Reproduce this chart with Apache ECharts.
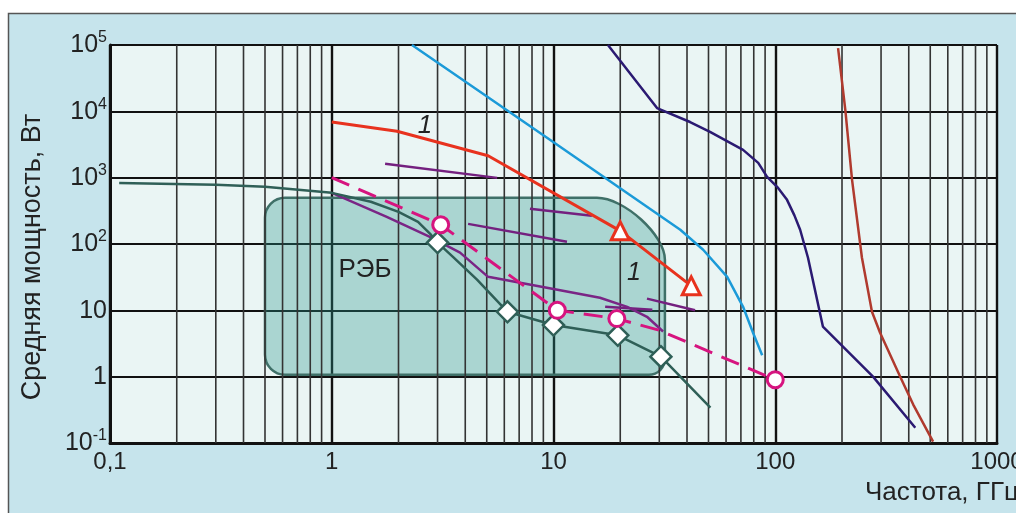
<!DOCTYPE html>
<html><head><meta charset="utf-8">
<script src="https://cdn.jsdelivr.net/npm/echarts@6/dist/echarts.min.js"></script>
<style>html,body{margin:0;padding:0;background:#fff}#c{width:1016px;height:513px}</style>
</head><body><div id="c"></div>
<script>
// ---- tick labels ----
const xTickValues = [0.1, 1, 10, 100, 1000];
const xTickLabels = ['0,1', '1', '10', '100', '1000'];
const yTickExponents = [-1, 0, 1, 2, 3, 4, 5];
const yTickBase = ['10', '1', '10', '10', '10', '10', '10'];
const yTickSup = ['-1', '', '', '2', '3', '4', '5'];
const xMinorGrid = [0.2,0.3,0.4,0.5,0.6,0.7,0.8,0.9, 2,3,4,5,6,7,8,9, 20,30,40,50,60,70,80,90, 200,300,400,500,600,700,800,900];

// ---- data (x: GHz, y: W) ----
const tealCurve = [[0.11,830],[0.3,780],[0.5,730],[1,590],[1.5,433],[2,305],[2.45,216],[2.8,138],[3.0,105],[3.52,64],[4.52,29],[6.2,9.5],[10,6],[19.5,4.2],[30.5,2.0],[51,0.34]];
const tealMarkers = [8, 11, 12, 13, 14];
const purpleCurve = [[1,590],[1.77,257],[2.77,128],[3.79,74],[5.07,32],[10,21],[16.2,15.5],[21.5,11.3],[26.4,8.0],[31.2,4.8]];
const purpleSegA = [[1.74,1615],[5.57,993]];
const purpleSegB = [[7.83,339],[14.9,266]];
const purpleSegC = [[4.12,201],[11.5,108]];
const purpleSegD = [[17.1,11.3],[27.9,10.2]];
const purpleSegE = [[26.4,15],[43.5,10]];
const magentaCurve = [[1,1000],[3.1,195],[10.4,10],[19.3,7.5],[30,5],[100,0.9]];
const magentaMarkers = [1, 2, 3, 5];
const redCurve = [[1,6900],[1.97,5000],[5.07,2140],[20,158],[41.8,23.4]];
const redMarkers = [3, 4];
const blueCurve = [[2.3,100000],[9.97,3460],[37.3,164],[47.3,82],[60.7,32],[71.6,11.3],[79.4,4.6],[87.3,2.1]];
const navyCurve = [[17.6,100000],[29.3,11200],[41.3,6900],[50.8,4900],[71.6,2620],[83.8,1670],[91.9,1030],[103,700],[113,463],[122,270],[129.5,164],[140.5,62],[164,5.7],[276,1.0],[428,0.17]];
const brownCurve = [[192,90000],[207,10500],[222,927],[246,62],[273,9.5],[297,4.6],[366,1.0],[419,0.38],[515,0.105]];
const rebRegion = [[0.5, 1.07, 31.8, 497]]; // xMin, yMin, xMax, yMax

const FONT = 'Liberation Sans, Arial, sans-serif';
const chart = echarts.init(document.getElementById('c'));

function lineSeries(data, color, width, extra) {
  return Object.assign({
    type: 'line', data: data, showSymbol: false, symbol: 'none',
    lineStyle: { color: color, width: width }, itemStyle: { color: color },
    animation: false, silent: true, z: 3
  }, extra || {});
}
function markedSeries(data, color, width, markers, sym, size, border, extra) {
  return Object.assign(lineSeries(data, color, width), {
    showSymbol: true, showAllSymbol: true,
    symbol: (v, p) => markers.indexOf(p.dataIndex) >= 0 ? sym : 'none',
    symbolSize: size,
    itemStyle: { color: '#ffffff', borderColor: color, borderWidth: border },
    z: 4
  }, extra || {});
}

const option = {
  backgroundColor: '#c6e4ec',
  animation: false,
  grid: { left: 110, right: 19, top: 45, bottom: 70, show: true, backgroundColor: '#eaf5f4', borderWidth: 0, containLabel: false, outerBoundsMode: 'none' },
  xAxis: {
    type: 'log', logBase: 10, min: 0.1, max: 1000,
    axisLine: { show: true, onZero: false, lineStyle: { color: '#111', width: 3 } },
    axisTick: { show: false },
    splitLine: { show: true, lineStyle: { color: '#111', width: 2.4 } },
    axisLabel: {
      margin: 7, color: '#222', fontFamily: FONT, fontSize: 24,
      formatter: v => xTickLabels[Math.round(Math.log10(v)) + 1]
    }
  },
  yAxis: {
    type: 'log', logBase: 10, min: 0.1, max: 100000,
    axisLine: { show: true, onZero: false, lineStyle: { color: '#111', width: 3 } },
    axisTick: { show: false },
    splitLine: { show: true, lineStyle: { color: '#111', width: 2 } },
    axisLabel: {
      margin: 3, color: '#222', fontFamily: FONT,
      formatter: v => {
        const i = yTickExponents.indexOf(Math.round(Math.log10(v)));
        return '{b|' + yTickBase[i] + '}' + (yTickSup[i] ? '{s|' + yTickSup[i] + '}' : '');
      },
      rich: {
        b: { fontSize: 25, fontFamily: FONT, color: '#222', lineHeight: 30, verticalAlign: 'bottom', padding: [0, 0, 2, 0] },
        s: { fontSize: 16, fontFamily: FONT, color: '#222', lineHeight: 16, verticalAlign: 'top' }
      }
    }
  },
  graphic: [
    { type: 'rect', shape: { x: 0, y: 0, width: 1016, height: 13 }, style: { fill: '#ffffff' }, z: 100, silent: true },
    { type: 'rect', shape: { x: 0, y: 0, width: 8, height: 513 }, style: { fill: '#ffffff' }, z: 100, silent: true },
    { type: 'polyline', shape: { points: [[8.5, 513], [8.5, 13.5], [1016, 13.5]] }, style: { stroke: '#555', lineWidth: 1.5, fill: null }, z: 101, silent: true },
    { type: 'text', x: 865, y: 493, style: { text: 'Частота, ГГц', font: '26px ' + FONT, fill: '#222', textAlign: 'left', textVerticalAlign: 'middle', align: 'left', verticalAlign: 'middle' }, z: 50 },
    { type: 'text', x: 33, y: 257, rotation: Math.PI / 2, style: { text: 'Средняя мощность, Вт', font: '27px ' + FONT, fill: '#222', textAlign: 'center', textVerticalAlign: 'middle', align: 'center', verticalAlign: 'middle' }, z: 50 },
    { type: 'text', x: 365, y: 270, style: { text: 'РЭБ', font: '26px ' + FONT, fill: '#222', textAlign: 'center', textVerticalAlign: 'middle', align: 'center', verticalAlign: 'middle' }, z: 50 },
    { type: 'text', x: 425, y: 126, style: { text: '1', font: 'italic 26px ' + FONT, fill: '#222', textAlign: 'center', textVerticalAlign: 'middle', align: 'center', verticalAlign: 'middle' }, z: 50 },
    { type: 'text', x: 634, y: 273, style: { text: '1', font: 'italic 25px ' + FONT, fill: '#222', textAlign: 'center', textVerticalAlign: 'middle', align: 'center', verticalAlign: 'middle' }, z: 50 }
  ],
  series: [
    {
      type: 'custom', data: rebRegion, encode: { x: [0, 2], y: [1, 3] }, silent: true, z: 1,
      renderItem: (params, api) => {
        const tl = api.coord([api.value(0), api.value(3)]);
        const br = api.coord([api.value(2), api.value(1)]);
        const L = tl[0], T = tl[1], R = br[0], B = br[1];
        const rTL = 20, rBL = 20, rBR = 16, rx = 68, ry = 62, k = 0.55, kc = 0.4;
        const d = 'M' + (L + rTL) + ',' + T +
          ' L' + (R - rx) + ',' + T +
          ' C' + (R - rx + kc * rx) + ',' + T + ' ' + R + ',' + (T + ry - kc * ry) + ' ' + R + ',' + (T + ry) +
          ' L' + R + ',' + (B - rBR) +
          ' C' + R + ',' + (B - rBR + k * rBR) + ' ' + (R - rBR + k * rBR) + ',' + B + ' ' + (R - rBR) + ',' + B +
          ' L' + (L + rBL) + ',' + B +
          ' C' + (L + rBL - k * rBL) + ',' + B + ' ' + L + ',' + (B - rBL + k * rBL) + ' ' + L + ',' + (B - rBL) +
          ' L' + L + ',' + (T + rTL) +
          ' C' + L + ',' + (T + rTL - k * rTL) + ' ' + (L + rTL - k * rTL) + ',' + T + ' ' + (L + rTL) + ',' + T + ' Z';
        return { type: 'path', shape: { pathData: d }, style: { fill: 'rgba(40,150,140,0.33)', stroke: '#3f7068', lineWidth: 2.5 } };
      }
    },
    {
      type: 'custom', data: xMinorGrid.map(v => [v, 1]), encode: { x: 0, y: 1 }, silent: true, z: 1,
      renderItem: (params, api) => {
        const x = api.coord([api.value(0), 1])[0];
        const cs = params.coordSys;
        return { type: 'line', shape: { x1: x, y1: cs.y, x2: x, y2: cs.y + cs.height }, style: { stroke: '#333333', lineWidth: 1.6 } };
      }
    },
    lineSeries(purpleSegA, '#74207f', 2.5),
    lineSeries(purpleSegB, '#74207f', 2.5),
    lineSeries(purpleSegC, '#74207f', 2.5),
    lineSeries(purpleSegD, '#74207f', 2.5),
    lineSeries(purpleSegE, '#74207f', 2.5),
    lineSeries(purpleCurve, '#7a2585', 2.5),
    lineSeries(blueCurve, '#1b9ad8', 2.5),
    lineSeries(navyCurve, '#2b1a72', 2.5),
    lineSeries(brownCurve, '#b03a2e', 2.5),
    markedSeries(tealCurve, '#2f5f57', 2.5, tealMarkers, 'diamond', 21, 2.5),
    markedSeries(magentaCurve, '#d6147f', 3, magentaMarkers, 'circle', 16, 3, { lineStyle: { color: '#d6147f', width: 3, type: [19, 10] } }),
    markedSeries(redCurve, '#e8321e', 3, redMarkers, 'triangle', 18, 3)
  ]
};
chart.setOption(option);
</script>
</body></html>
